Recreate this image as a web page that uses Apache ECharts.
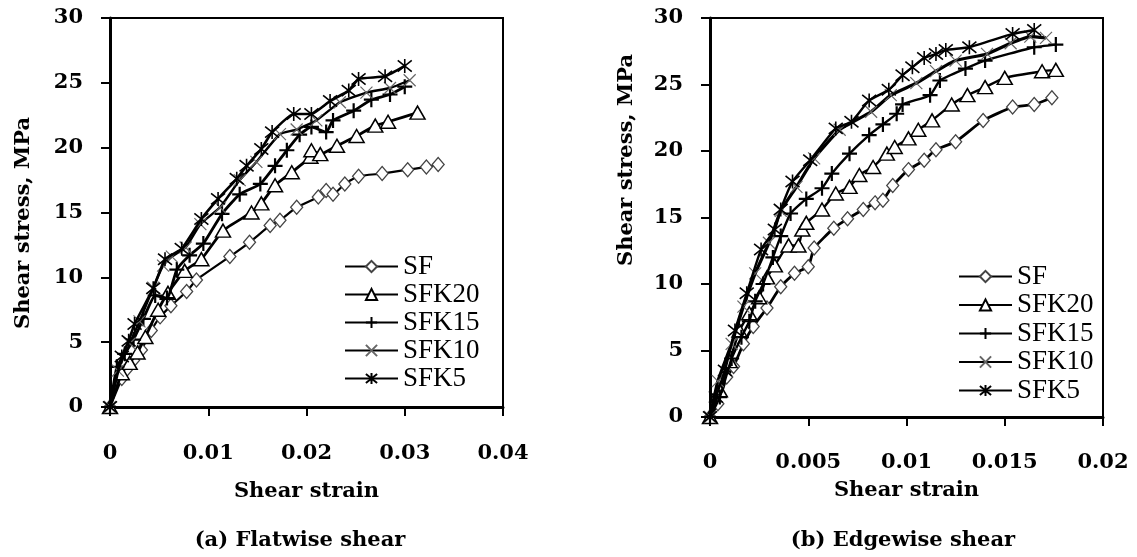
<!DOCTYPE html>
<html>
<head>
<meta charset="utf-8">
<script src="https://cdn.jsdelivr.net/npm/echarts@6/dist/echarts.min.js"></script>
<style>
html,body{margin:0;padding:0;background:#fff;}
#c{width:1137px;height:557px;}
</style>
</head>
<body>
<div id="c"></div>
<script>
// ---------- data ----------
var seriesNames = ['SF', 'SFK20', 'SFK15', 'SFK10', 'SFK5'];
var xTicksA = ['0', '0.01', '0.02', '0.03', '0.04'];
var xTicksB = ['0', '0.005', '0.01', '0.015', '0.02'];
var yTicks = ['0', '5', '10', '15', '20', '25', '30'];
var titleA = '(a) Flatwise shear';
var titleB = '(b) Edgewise shear';
var xName = 'Shear strain';
var yName = 'Shear stress, MPa';

// (a) Flatwise shear : [strain, stress MPa]
var fSF = [[0,0],[0.0012,2.2],[0.0017,2.9],[0.0024,3.6],[0.0032,4.4],[0.0042,5.9],[0.0051,6.95],[0.0062,7.8],[0.0078,8.9],[0.0088,9.8],[0.0122,11.6],[0.0142,12.7],[0.0163,14.0],[0.0173,14.4],[0.019,15.4],[0.0212,16.2],[0.022,16.7],[0.0227,16.4],[0.0239,17.2],[0.0253,17.8],[0.0277,18.0],[0.0303,18.3],[0.0322,18.5],[0.0334,18.7]];
var fSFK20 = [[0,0],[0.0012,2.6],[0.002,3.4],[0.0028,4.2],[0.0036,5.4],[0.0049,7.5],[0.0059,8.8],[0.0076,10.5],[0.0093,11.4],[0.0115,13.6],[0.0144,15.0],[0.0154,15.7],[0.0168,17.1],[0.0185,18.1],[0.0204,19.3],[0.0205,19.8],[0.0214,19.5],[0.0231,20.15],[0.0251,20.9],[0.027,21.7],[0.0283,22.0],[0.0313,22.7]];
var fSFK15 = [[0,0],[0.0007,3.1],[0.0015,4.1],[0.0024,5.2],[0.0034,6.8],[0.0046,8.6],[0.0058,8.4],[0.0068,10.6],[0.0081,11.7],[0.0095,12.6],[0.0114,14.9],[0.0132,16.4],[0.0153,17.2],[0.0168,18.6],[0.018,19.8],[0.0193,21.0],[0.0205,21.6],[0.022,21.2],[0.0227,22.1],[0.0248,22.85],[0.0266,23.7],[0.0285,24.1],[0.030,24.7]];
var fSFK10 = [[0,0],[0.0008,2.8],[0.002,4.9],[0.003,6.6],[0.0044,9.2],[0.0054,10.9],[0.0063,11.6],[0.0077,12.3],[0.0092,14.1],[0.0112,15.4],[0.0132,17.5],[0.0149,18.9],[0.0173,21.05],[0.019,21.4],[0.021,22.1],[0.0234,23.5],[0.0261,24.25],[0.0285,24.6],[0.0305,25.2]];
var fSFK5 = [[0,0],[0.0012,3.9],[0.0019,5.1],[0.0025,6.4],[0.0044,9.15],[0.0056,11.4],[0.0073,12.2],[0.0093,14.5],[0.011,16.05],[0.0129,17.6],[0.0139,18.6],[0.0154,19.9],[0.0165,21.2],[0.0187,22.6],[0.0205,22.6],[0.0224,23.6],[0.0243,24.4],[0.0253,25.3],[0.028,25.5],[0.030,26.3]];

// (b) Edgewise shear : [strain, stress MPa]
var eSF = [[0,0],[0.0004,1.0],[0.00085,3.0],[0.0012,3.8],[0.0017,5.5],[0.0022,6.8],[0.0029,8.2],[0.0036,9.8],[0.0043,10.8],[0.005,11.3],[0.0053,12.7],[0.0063,14.2],[0.007,14.9],[0.0078,15.6],[0.0084,16.1],[0.0088,16.3],[0.0093,17.4],[0.0101,18.6],[0.0109,19.3],[0.0115,20.1],[0.0125,20.7],[0.0139,22.3],[0.0154,23.3],[0.0165,23.5],[0.0174,24.0]];
var eSFK20 = [[0,0],[0.0005,2.0],[0.001,4.2],[0.0015,6.5],[0.002,7.8],[0.0025,9.0],[0.0029,10.5],[0.0033,11.4],[0.004,12.9],[0.0045,12.9],[0.0047,14.1],[0.0049,14.6],[0.0057,15.6],[0.0064,16.8],[0.0071,17.3],[0.0076,18.2],[0.0083,18.8],[0.009,19.8],[0.0094,20.3],[0.0101,20.95],[0.0106,21.6],[0.0113,22.3],[0.0123,23.5],[0.0131,24.2],[0.014,24.8],[0.015,25.5],[0.0169,26.0],[0.0176,26.1]];
var eSFK15 = [[0,0],[0.0005,1.5],[0.0011,4.4],[0.0016,6.0],[0.002,7.2],[0.0023,8.7],[0.0027,10.0],[0.0032,12.0],[0.0036,13.6],[0.0041,15.3],[0.0049,16.4],[0.0057,17.2],[0.0062,18.3],[0.0071,19.8],[0.0081,21.2],[0.0088,22.0],[0.0095,22.8],[0.0098,23.5],[0.0112,24.2],[0.0117,25.3],[0.013,26.2],[0.014,26.8],[0.0165,27.8],[0.0176,28.0]];
var eSFK10 = [[0,0],[0.0004,2.7],[0.0011,5.5],[0.0017,8.3],[0.0023,10.8],[0.003,13.1],[0.0036,15.5],[0.0044,17.3],[0.0053,19.45],[0.0066,21.6],[0.0082,22.95],[0.0092,24.2],[0.0105,25.1],[0.0115,26.0],[0.0125,26.8],[0.0141,27.3],[0.0153,28.1],[0.0163,28.6],[0.0171,28.5]];
var eSFK5 = [[0,0],[0.0003,1.5],[0.00076,3.5],[0.00127,6.5],[0.00187,9.3],[0.0026,12.6],[0.0033,14.1],[0.0036,15.6],[0.0042,17.7],[0.0051,19.3],[0.0064,21.7],[0.0072,22.2],[0.0081,23.8],[0.0091,24.6],[0.0098,25.7],[0.0103,26.3],[0.0109,27.0],[0.0115,27.3],[0.012,27.6],[0.0132,27.8],[0.0154,28.8],[0.0165,29.1]];

var flatData = [fSF, fSFK20, fSFK15, fSFK10, fSFK5];
var edgeData = [eSF, eSFK20, eSFK15, eSFK10, eSFK5];

// ---------- styles ----------
var BOLD = 'DejaVu Serif';
var REG = 'Liberation Serif';
var markers = [
  {symbol: 'diamond', size: [12, 14], fill: '#fff', stroke: '#444', bw: 1.3},
  {symbol: 'triangle', size: [15, 13], fill: '#fff', stroke: '#000', bw: 1.5},
  {symbol: 'path://M5,0L5,10M0,5L10,5', size: 15, fill: 'none', stroke: '#000', bw: 2.2},
  {symbol: 'path://M0,0L10,10M10,0L0,10', size: 12, fill: 'none', stroke: '#666', bw: 1.2},
  {symbol: 'path://M1,1L9,9M9,1L1,9M5,0L5,10', size: 14, fill: 'none', stroke: '#000', bw: 1.6}
];
var lineWA = [2.2, 2.8, 2.8, 2.4, 2.6];
var lineWB = [2.8, 2.4, 2.4, 3.2, 2.4];

function makeSeries(dataSets, gridIdx, suffix, widths) {
  return dataSets.map(function (d, i) {
    var m = markers[i];
    return {
      name: seriesNames[i] + suffix,
      type: 'line',
      xAxisIndex: gridIdx,
      yAxisIndex: gridIdx,
      data: d,
      smooth: 0.15,
      symbol: m.symbol,
      symbolSize: m.size,
      showAllSymbol: true,
      lineStyle: {color: '#000', width: widths[i]},
      itemStyle: {color: m.fill, borderColor: m.stroke, borderWidth: m.bw},
      emphasis: {disabled: true},
      animation: false,
      z: 2 + i
    };
  });
}

function xAxisCfg(gridIdx, max, interval, labels, margin, gap) {
  return {
    type: 'value', gridIndex: gridIdx, min: 0, max: max, interval: interval,
    name: xName, nameLocation: 'middle', nameGap: gap,
    nameTextStyle: {fontFamily: BOLD, fontWeight: 'bold', fontSize: 21, color: '#000'},
    axisLine: {show: true, onZero: false, lineStyle: {color: '#000', width: 3}},
    axisTick: {show: true, inside: false, length: 9, lineStyle: {color: '#000', width: 2}},
    axisLabel: {margin: margin, fontFamily: BOLD, fontWeight: 'bold', fontSize: 21, color: '#000',
      formatter: function (v) { return labels[Math.round(v / interval)]; }},
    splitLine: {show: false}
  };
}
function yAxisCfg(gridIdx) {
  return {
    type: 'value', gridIndex: gridIdx, min: 0, max: 30, interval: 5,
    axisLine: {show: true, onZero: false, lineStyle: {color: '#000', width: 3}},
    axisTick: {show: true, inside: false, length: 9, lineStyle: {color: '#000', width: 2}},
    axisLabel: {margin: 27, fontFamily: BOLD, fontWeight: 'bold', fontSize: 21, color: '#000',
      formatter: function (v) { return yTicks[Math.round(v / 5)]; }},
    splitLine: {show: false}
  };
}
function legendCfg(suffix, left, top, gap) {
  return {
    orient: 'vertical', left: left, top: top, itemGap: gap,
    itemWidth: 53, itemHeight: 14,
    data: seriesNames.map(function (n) { return n + suffix; }),
    formatter: function (n) { return n.replace(suffix, ''); },
    textStyle: {fontFamily: REG, fontSize: 27, color: '#000', lineHeight: 20},
    selectedMode: false
  };
}

var chart = echarts.init(document.getElementById('c'), null, {renderer: 'canvas'});
chart.setOption({
  backgroundColor: '#fff',
  animation: false,
  grid: [
    {left: 110, top: 18, width: 393, height: 389, show: true, borderColor: '#000', borderWidth: 2, backgroundColor: 'transparent'},
    {left: 710, top: 18, width: 393, height: 399, show: true, borderColor: '#000', borderWidth: 2, backgroundColor: 'transparent'}
  ],
  xAxis: [xAxisCfg(0, 0.04, 0.01, xTicksA, 36, 74), xAxisCfg(1, 0.02, 0.005, xTicksB, 35, 63)],
  yAxis: [yAxisCfg(0), yAxisCfg(1)],
  legend: [legendCfg('', 339, 248, 1), legendCfg(' ', 953, 258, 1.5)],
  series: makeSeries(flatData, 0, '', lineWA).concat(makeSeries(edgeData, 1, ' ', lineWB)),
  graphic: [
    {type: 'text', x: 24, y: 223, rotation: Math.PI / 2, z: 10,
      style: {text: yName, font: 'bold 21px "DejaVu Serif"', fill: '#000', align: 'center', verticalAlign: 'middle'}},
    {type: 'text', x: 627, y: 160, rotation: Math.PI / 2, z: 10,
      style: {text: yName, font: 'bold 21px "DejaVu Serif"', fill: '#000', align: 'center', verticalAlign: 'middle'}},
    {type: 'text', x: 300, y: 541, z: 10,
      style: {text: titleA, font: 'bold 21px "DejaVu Serif"', fill: '#000', align: 'center', verticalAlign: 'middle'}},
    {type: 'text', x: 903, y: 541, z: 10,
      style: {text: titleB, font: 'bold 21px "DejaVu Serif"', fill: '#000', align: 'center', verticalAlign: 'middle'}}
  ]
});
</script>
</body>
</html>
